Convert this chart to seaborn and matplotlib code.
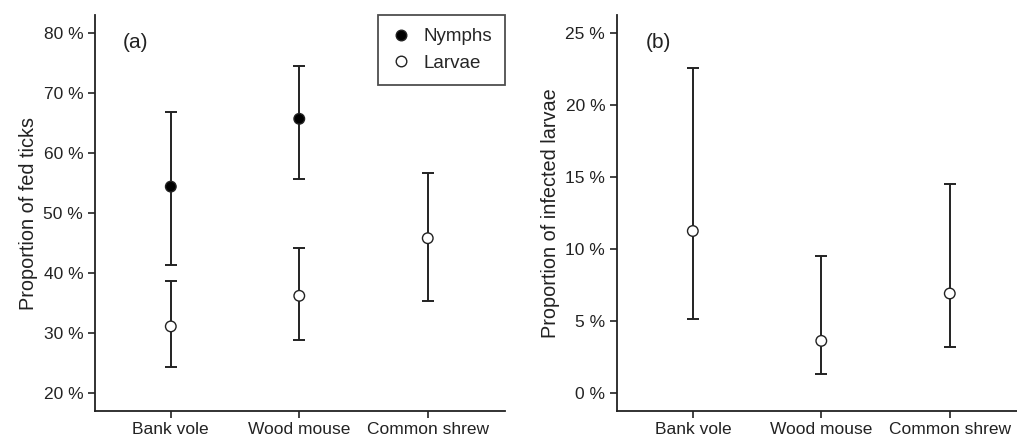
import matplotlib
matplotlib.use("Agg")
import matplotlib.pyplot as plt
import seaborn as sns
import pandas as pd
from matplotlib.ticker import FuncFormatter

hosts = ["Bank vole", "Wood mouse", "Common shrew"]

# panel (a): proportion of fed ticks (%)
nymph_hosts = ["Bank vole", "Wood mouse"]
nymph_est = [54.4, 65.7]
nymph_lo = [41.4, 55.7]
nymph_hi = [66.8, 74.5]

larvae_est = [31.1, 36.2, 45.8]
larvae_lo = [24.4, 28.8, 35.4]
larvae_hi = [38.7, 44.1, 56.6]

# panel (b): proportion of infected larvae (%)
inf_est = [11.25, 3.62, 6.91]
inf_lo = [5.17, 1.35, 3.18]
inf_hi = [22.6, 9.51, 14.52]

fed = pd.DataFrame({
    "host": nymph_hosts + hosts,
    "stage": ["Nymphs"] * 2 + ["Larvae"] * 3,
    "est": nymph_est + larvae_est,
    "lo": nymph_lo + larvae_lo,
    "hi": nymph_hi + larvae_hi,
})
inf = pd.DataFrame({"host": hosts, "stage": "Larvae",
                    "est": inf_est, "lo": inf_lo, "hi": inf_hi})

sns.set_style("ticks")
plt.rcParams["font.family"] = ["Liberation Sans", "DejaVu Sans"]
plt.rcParams["axes.edgecolor"] = "#222222"
plt.rcParams["axes.linewidth"] = 1.3

fig = plt.figure(figsize=(10.17, 4.34), dpi=100)
ax1 = fig.add_axes([0.0934, 0.053, 0.403, 0.9124])
ax2 = fig.add_axes([0.6067, 0.053, 0.403, 0.9124])

pal = {"Nymphs": "black", "Larvae": "white"}


def draw(ax, df, legend):
    pos = df["host"].map({h: i for i, h in enumerate(hosts)})
    ax.errorbar(pos, df["est"], yerr=[df["est"] - df["lo"], df["hi"] - df["est"]],
                fmt="none", ecolor="#222222", elinewidth=1.4, capsize=4.5,
                capthick=1.4, zorder=2)
    sns.scatterplot(x=pos, y=df["est"], hue=df["stage"], palette=pal,
                    hue_order=["Nymphs", "Larvae"], edgecolor="#222222",
                    linewidth=1.0, s=58, ax=ax, zorder=3, legend=legend)
    ax.set_xticks(range(len(hosts)))
    ax.set_xticklabels(hosts)
    ax.set_xlim(-0.59, 2.6)
    ax.set_xlabel("")
    ax.yaxis.set_major_formatter(FuncFormatter(lambda v, p: f"{v:.0f} %"))
    ax.tick_params(axis="both", labelsize=12.5, length=5, width=1.2,
                   color="#222222", labelcolor="#222222")
    ax.tick_params(axis="x", pad=3)
    sns.despine(ax=ax)


draw(ax1, fed, True)
ax1.set_ylim(17, 83)
ax1.set_yticks(range(20, 81, 10))
ax1.set_ylabel("Proportion of fed ticks", fontsize=14.3, color="#222222")
ax1.text(0.068, 0.93, "(a)", transform=ax1.transAxes, fontsize=15,
         va="center", color="#222222")
leg = ax1.legend(loc="upper right", bbox_to_anchor=(1.0, 1.0), fontsize=13.5,
                 frameon=True, fancybox=False, edgecolor="#222222",
                 borderpad=0.7, handletextpad=0.7, labelspacing=0.5,
                 handlelength=1.0, borderaxespad=0.0, markerscale=1.0)
leg.get_frame().set_linewidth(1.3)

draw(ax2, inf, False)
ax2.set_ylim(-1.25, 26.25)
ax2.set_yticks(range(0, 26, 5))
ax2.set_ylabel("Proportion of infected larvae", fontsize=14.3, color="#222222")
ax2.text(0.07, 0.93, "(b)", transform=ax2.transAxes, fontsize=15,
         va="center", color="#222222")

fig.savefig("out.png", dpi=100)
